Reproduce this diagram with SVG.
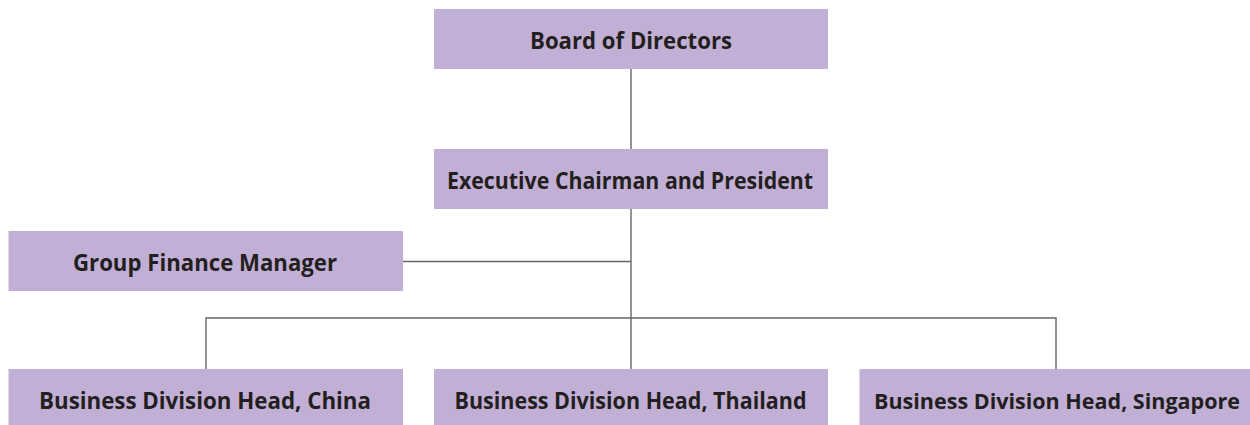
<svg xmlns="http://www.w3.org/2000/svg" width="1250" height="425" viewBox="0 0 1250 425">
  <style>
    .box { fill: #c2afd5; }
    .label { font-family: "Open Sans", "Noto Sans", "Liberation Sans", sans-serif; font-weight: 700; font-size: 23px; fill: #231f20; text-anchor: middle; }
    .tight { font-size: 21.5px; }
    .link { fill: none; stroke: #666666; stroke-width: 1.4; }
  </style>
  <rect width="1250" height="425" fill="#ffffff"/>

  <!-- reporting lines -->
  <g id="connectors">
    <line class="link" x1="631" y1="69" x2="631" y2="149"/>
    <line class="link" x1="631" y1="209" x2="631" y2="369"/>
    <line class="link" x1="403" y1="261.5" x2="631" y2="261.5"/>
    <polyline class="link" points="206,369 206,318 1056,318 1056,369"/>
  </g>

  <g id="board">
    <rect class="box" x="434" y="9" width="394" height="60"/>
    <text class="label" x="631" y="49.3" textLength="202" lengthAdjust="spacingAndGlyphs">Board of Directors</text>
  </g>

  <g id="chairman">
    <rect class="box" x="434" y="149" width="394" height="60"/>
    <text class="label" x="630" y="189.3" textLength="366" lengthAdjust="spacingAndGlyphs">Executive Chairman and President</text>
  </g>

  <g id="finance">
    <rect class="box" x="8.5" y="231" width="394.5" height="60"/>
    <text class="label" x="205" y="271" textLength="264" lengthAdjust="spacingAndGlyphs">Group Finance Manager</text>
  </g>

  <!-- bottom row runs to the lower edge of the page -->
  <g id="china">
    <rect class="box" x="8.5" y="369" width="394.5" height="56"/>
    <text class="label" x="205" y="409" textLength="332" lengthAdjust="spacingAndGlyphs">Business Division Head, China</text>
  </g>

  <g id="thailand">
    <rect class="box" x="434" y="369" width="394" height="56"/>
    <text class="label" x="630.5" y="409" textLength="352" lengthAdjust="spacingAndGlyphs">Business Division Head, Thailand</text>
  </g>

  <g id="singapore">
    <rect class="box" x="859.5" y="369" width="390.5" height="56"/>
    <text class="label tight" x="1057" y="409" textLength="366" lengthAdjust="spacingAndGlyphs">Business Division Head, Singapore</text>
  </g>
</svg>
